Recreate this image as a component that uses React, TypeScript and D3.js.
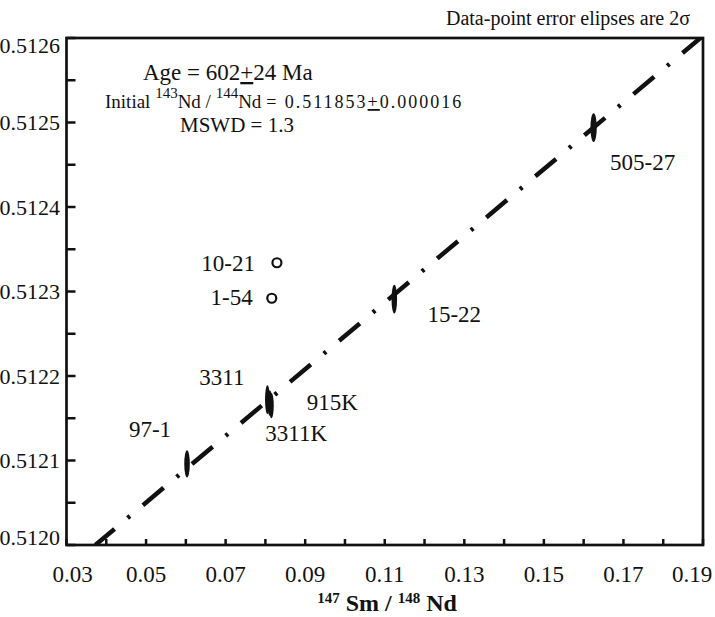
import React from "react";
import * as d3 from "d3";

// isochron samples (filled error ellipses)
const sampleNames = ["97-1", "3311", "915K", "3311K", "15-22", "505-27"];
const smNd = [0.0603, 0.0805, 0.0811, 0.0815, 0.1124, 0.1625];
const ndNd = [0.512096, 0.512172, 0.512168, 0.512165, 0.512291, 0.512494];
const smErr = [0.0007, 0.0006, 0.0006, 0.0006, 0.0007, 0.0008];
const ndErr = [0.000016, 0.000017, 0.000015, 0.000015, 0.000017, 0.000017];

// samples left out of the regression (open circles)
const outlierNames = ["10-21", "1-54"];
const outlierSm = [0.0829, 0.0816];
const outlierNd = [0.512334, 0.512292];

// regression line
const initialRatio = 0.511853;
const isochronSlope = 0.003945;

// axes
const xMajor = [0.03, 0.05, 0.07, 0.09, 0.11, 0.13, 0.15, 0.17, 0.19];
const xMajorLabels = ["0.03", "0.05", "0.07", "0.09", "0.11", "0.13", "0.15", "0.17", "0.19"];
const xMinor = [0.04, 0.06, 0.08, 0.1, 0.12, 0.14, 0.16, 0.18];
const yMajor = [0.512, 0.5121, 0.5122, 0.5123, 0.5124, 0.5125, 0.5126];
const yMajorLabels = ["0.5120", "0.5121", "0.5122", "0.5123", "0.5124", "0.5125", "0.5126"];
const yMinor = [0.51205, 0.51215, 0.51225, 0.51235, 0.51245, 0.51255];

// label offsets in px (anchor, dx, dy)
const labelPos: Record<string, [string, number, number]> = {
  "97-1": ["middle", -37, -35],
  "3311": ["end", -23, -23],
  "915K": ["start", 37, -1],
  "3311K": ["start", -6, 27],
  "15-22": ["middle", 60, 15],
  "505-27": ["middle", 49, 34],
  "10-21": ["end", -22, 0],
  "1-54": ["end", -19, -1],
};

const W = 715;
const H = 617;
const margin = { top: 38, right: 12, bottom: 72, left: 66.5 };
const font = "'Liberation Serif', 'Times New Roman', serif";

export default function App() {
  const x = d3.scaleLinear().domain([0.03, 0.19]).range([margin.left, W - margin.right]);
  const y = d3.scaleLinear().domain([0.512, 0.5126]).range([H - margin.bottom, margin.top]);
  const [x0, x1] = x.range();
  const [y0, y1] = y.range();

  // isochron from y-axis floor to right edge
  const lineStart = (0.512 - initialRatio) / isochronSlope;
  const linePath = d3.line<number>()
    .x((d) => x(d))
    .y((d) => y(initialRatio + isochronSlope * d))([lineStart, 0.19]);

  return (
    <svg width={W} height={H} style={{ position: "absolute", left: 0, top: 0, background: "#fff" }}>
      <defs>
        <clipPath id="frame">
          <rect x={x0} y={y1} width={x1 - x0} height={y0 - y1} />
        </clipPath>
      </defs>

      <text x={690} y={25} textAnchor="end" fontFamily={font} fontSize={20} fill="#111">
        Data-point error elipses are 2σ
      </text>

      {/* ticks */}
      <g stroke="#111" strokeWidth={2.5}>
        {xMajor.concat(xMinor).map((d, i) => (
          <line key={"xt" + i} x1={x(d)} x2={x(d)} y1={y0} y2={y0 - 6} />
        ))}
        {yMajor.concat(yMinor).map((d, i) => (
          <line key={"yt" + i} x1={x0} x2={x0 + 9} y1={y(d)} y2={y(d)} />
        ))}
      </g>

      <g fontFamily={font} fontSize={23} fill="#111">
        {xMajor.map((d, i) => {
          const dx = i === 0 ? 6 : i === xMajor.length - 1 ? -11 : 0;
          return (
            <text key={"xl" + i} x={x(d) + dx} y={582} textAnchor="middle">
              {xMajorLabels[i]}
            </text>
          );
        })}
      </g>
      <g fontFamily={font} fontSize={22} fill="#111">
        {yMajor.map((d, i) => {
          const dy = i === 0 ? -8 : i === yMajor.length - 1 ? 7.5 : 0;
          return (
            <text key={"yl" + i} x={60} y={y(d) + dy} dy="0.35em" textAnchor="end">
              {yMajorLabels[i]}
            </text>
          );
        })}
      </g>

      <text x={387} y={611} textAnchor="middle" fontFamily={font} fontWeight="bold" fontSize={24} fill="#111">
        <tspan fontSize={15} dy={-8}>147</tspan>
        <tspan dy={8}> Sm / </tspan>
        <tspan fontSize={15} dy={-8}>148</tspan>
        <tspan dy={8}> Nd</tspan>
      </text>

      {/* annotation */}
      <g fontFamily={font} fill="#111">
        <text x={143} y={80} fontSize={23}>
          Age = 602<tspan textDecoration="underline">+</tspan>24 Ma
        </text>
        <text x={105} y={108} fontSize={19}>
          Initial <tspan fontSize={15} dy={-10}>143</tspan>
          <tspan dy={10}>Nd / </tspan>
          <tspan fontSize={15} dy={-10}>144</tspan>
          <tspan dy={10}>Nd </tspan>
          <tspan fontSize={18} letterSpacing={2}>= 0.511853<tspan textDecoration="underline">+</tspan>0.000016</tspan>
        </text>
        <text x={180} y={132} fontSize={21}>MSWD = 1.3</text>
      </g>

      <g clipPath="url(#frame)">
        <path
          d={linePath ?? ""}
          fill="none"
          stroke="#111"
          strokeWidth={4.5}
          strokeDasharray="27 17 3 17"
          strokeDashoffset={2}
        />
      </g>

      {/* error ellipses */}
      <g fill="#111">
        {smNd.map((d, i) => (
          <ellipse
            key={"e" + i}
            cx={x(d)}
            cy={y(ndNd[i])}
            rx={x(d + smErr[i]) - x(d)}
            ry={y(ndNd[i]) - y(ndNd[i] + ndErr[i])}
          />
        ))}
      </g>

      {/* excluded samples */}
      <g fill="none" stroke="#111" strokeWidth={2.2}>
        {outlierSm.map((d, i) => (
          <circle key={"o" + i} cx={x(d)} cy={y(outlierNd[i])} r={4.5} />
        ))}
      </g>

      <g fontFamily={font} fontSize={23} fill="#111">
        {sampleNames.map((n, i) => {
          const [anchor, dx, dy] = labelPos[n];
          return (
            <text key={n} x={x(smNd[i]) + dx} y={y(ndNd[i]) + dy} dy="0.35em" textAnchor={anchor as any}>
              {n}
            </text>
          );
        })}
        {outlierNames.map((n, i) => {
          const [anchor, dx, dy] = labelPos[n];
          return (
            <text key={n} x={x(outlierSm[i]) + dx} y={y(outlierNd[i]) + dy} dy="0.35em" textAnchor={anchor as any}>
              {n}
            </text>
          );
        })}
      </g>

      <rect x={x0} y={y1} width={x1 - x0} height={y0 - y1} fill="none" stroke="#111" strokeWidth={2.7} />
    </svg>
  );
}
